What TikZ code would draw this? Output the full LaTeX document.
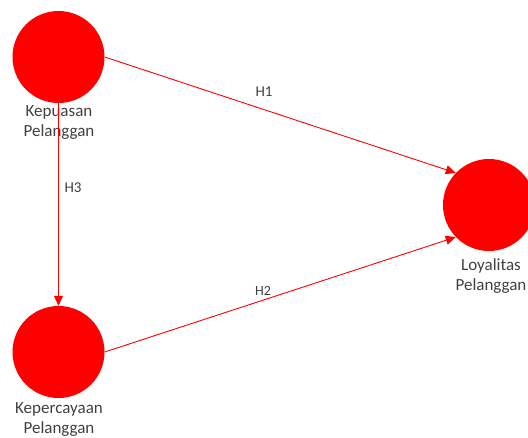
\documentclass[tikz,border=0pt]{standalone}
\usepackage{fontspec}
\setmainfont{Carlito}
\usetikzlibrary{arrows.meta}
\definecolor{lbl}{HTML}{404040}
\definecolor{pure}{HTML}{FF0000}
\tikzset{
  latent/.style={circle, fill=pure, draw=none, inner sep=0pt, minimum size=92pt},
  lvname/.style={text=lbl, align=center, font=\fontsize{17}{20}\selectfont, inner sep=0pt},
  hlabel/.style={text=lbl, font=\fontsize{15}{18}\selectfont, inner sep=0pt},
  path/.style={draw=pure, line width=0.9pt, -{Triangle[length=10pt,width=9pt]}}
}
\begin{document}
\begin{tikzpicture}[x=1pt,y=-1pt]
\useasboundingbox (0,0) rectangle (528,438);
\node[latent] (kp) at (58.5,57) {};
\node[latent] (kc) at (58.5,352) {};
\node[latent] (ly) at (489,205) {};
\node[lvname] (kpl) at (59,123) {Kepuasan\\Pelanggan};
\node[lvname] (kcl) at (59,420) {Kepercayaan\\Pelanggan};
\node[lvname] (lyl) at (491,276) {Loyalitas\\Pelanggan};
\draw[path] (kp.east) -- (ly.136);
\draw[path] (kc.east) -- (ly.224);
\draw[path] (kp.south) -- (kc.north);
\node[hlabel] (h1) at (264,92) {H1};
\node[hlabel, font=\fontsize{14}{17}\selectfont] (h2) at (263,291) {H2};
\node[hlabel] (h3) at (73,188) {H3};
\end{tikzpicture}
\end{document}
